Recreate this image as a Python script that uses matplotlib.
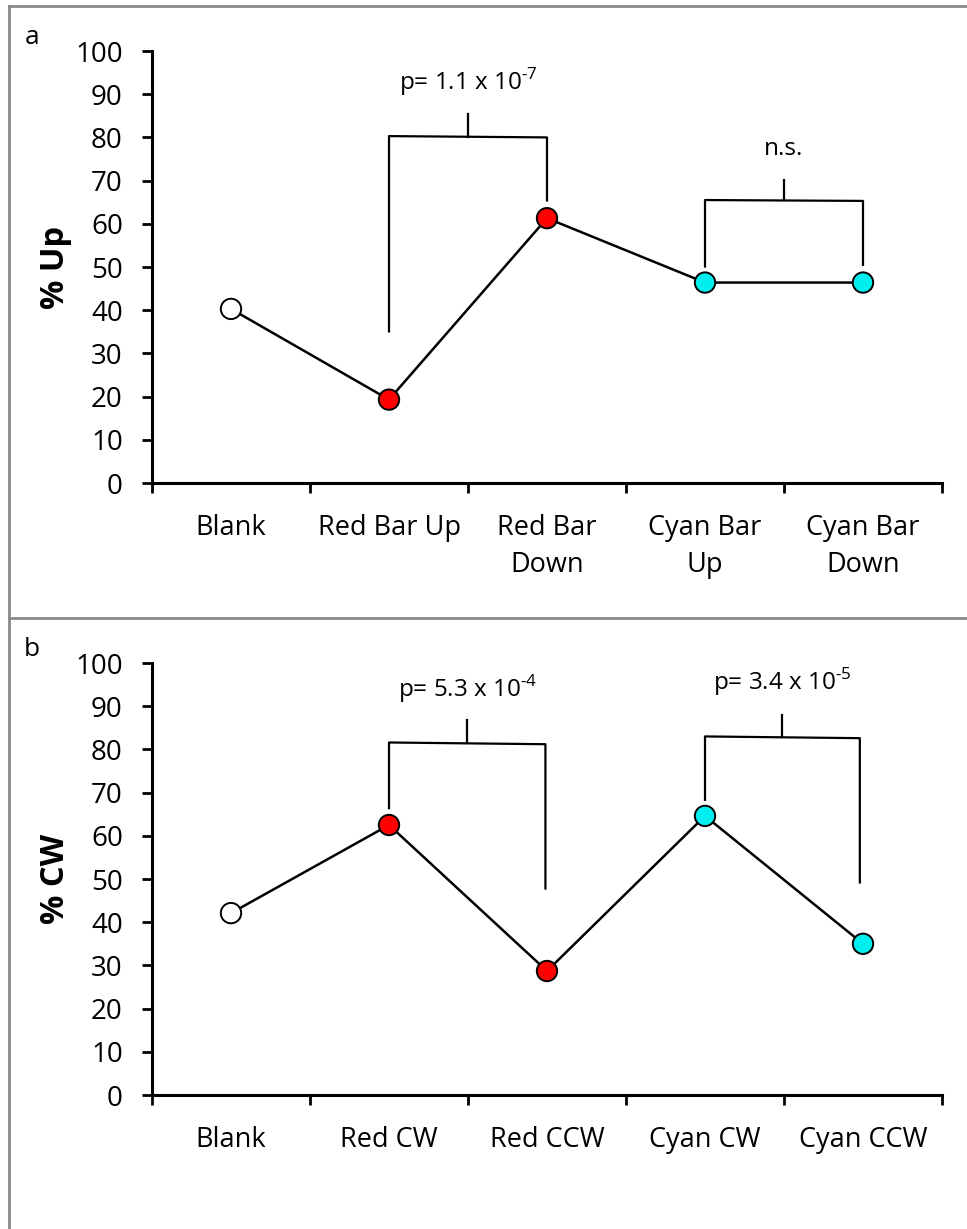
import matplotlib
matplotlib.use("Agg")
import matplotlib.pyplot as plt
from matplotlib.lines import Line2D

plt.rcParams['font.family'] = ['Open Sans', 'DejaVu Sans']
plt.rcParams['mathtext.fontset'] = 'custom'
plt.rcParams['mathtext.rm'] = 'Open Sans'

# panel a: vertical bars
labels_a = ["Blank", "Red Bar Up", "Red Bar\nDown", "Cyan Bar\nUp", "Cyan Bar\nDown"]
up_pct = [40.3, 19.3, 61.3, 46.4, 46.4]

# panel b: rotation
labels_b = ["Blank", "Red CW", "Red CCW", "Cyan CW", "Cyan CCW"]
cw_pct = [42.1, 62.5, 28.7, 64.6, 35.0]

colors = ["white", "red", "red", "#00eeee", "#00eeee"]

# significance brackets: left x, right x, left foot, right foot, left top, right top, tick top, text, text y
brackets_a = [
    (1.5, 2.5, 35.1, 65.4, 80.3, 80.0, 85.4, r"p= 1.1 x 10$^{\text{-7}}$", 91.1),
    (3.5, 4.5, 50.1, 50.5, 65.5, 65.3, 70.2, "n.s.", 75.9),
]
brackets_b = [
    (1.5, 2.49, 66.4, 47.8, 81.6, 81.2, 86.7, r"p= 5.3 x 10$^{\text{-4}}$", 92.2),
    (3.5, 4.48, 68.3, 49.2, 83.0, 82.6, 88.0, r"p= 3.4 x 10$^{\text{-5}}$", 93.75),
]

W, H = 967, 1229
fig = plt.figure(figsize=(W / 100, H / 100), dpi=100)

# frame lines around the two panels
gray = "#8a8a8a"
fig.add_artist(Line2D([9 / W, 1], [1 - 6 / H, 1 - 6 / H], color=gray, lw=2))
fig.add_artist(Line2D([9 / W, 9 / W], [0, 1 - 6 / H], color=gray, lw=2))
fig.add_artist(Line2D([9 / W, 1], [1 - 618 / H, 1 - 618 / H], color=gray, lw=2))


def panel(top_px, labels, values, ylabel, brackets, tag, tag_y):
    left, right, bottom = 152, 942, top_px + 432
    ax = fig.add_axes([left / W, 1 - bottom / H, (right - left) / W, 432 / H])
    x = [i + 0.5 for i in range(len(values))]
    ax.plot(x, values, color="black", lw=1.8, zorder=2, clip_on=False)
    ax.scatter(x, values, s=215, c=colors, edgecolors="black", linewidths=1.4,
               zorder=3, clip_on=False)

    for xl, xr, yl, yr, tl, tr, tt, txt, ty in brackets:
        xm = (xl + xr) / 2
        ax.plot([xl, xl, xr, xr], [yl, tl, tr, yr], color="black", lw=1.6, clip_on=False)
        ax.plot([xm, xm], [(tl + tr) / 2, tt], color="black", lw=1.6, clip_on=False)
        ax.text(xm, ty, txt, ha="center", va="baseline", fontsize=17.5)

    ax.set_xlim(0, len(values))
    ax.set_ylim(0, 100)
    ax.set_yticks(range(0, 101, 10))
    ax.set_xticks(range(len(values) + 1))
    ax.set_xticklabels([])
    ax.set_xticks(x, minor=True)
    ax.set_xticklabels(labels, minor=True, fontsize=19.5, linespacing=1.45)
    ax.tick_params(axis="x", which="major", length=7, width=2, direction="out")
    ax.tick_params(axis="x", which="minor", length=0, pad=22)
    ax.tick_params(axis="y", length=7, width=2, direction="out", pad=14, labelsize=20)
    for s in ["top", "right"]:
        ax.spines[s].set_visible(False)
    for s in ["left", "bottom"]:
        ax.spines[s].set_linewidth(2.2)

    fig.text(56 / W, 1 - (top_px + 216) / H, ylabel, rotation=90, ha="center",
             va="center", fontsize=23.5, fontweight="bold")
    fig.text(32 / W, 1 - tag_y / H, tag, ha="center", va="center", fontsize=19)
    return ax


panel(51, labels_a, up_pct, "% Up", brackets_a, "a", 37)
panel(663, labels_b, cw_pct, "% CW", brackets_b, "b", 650)

fig.savefig("out.png", dpi=100)
